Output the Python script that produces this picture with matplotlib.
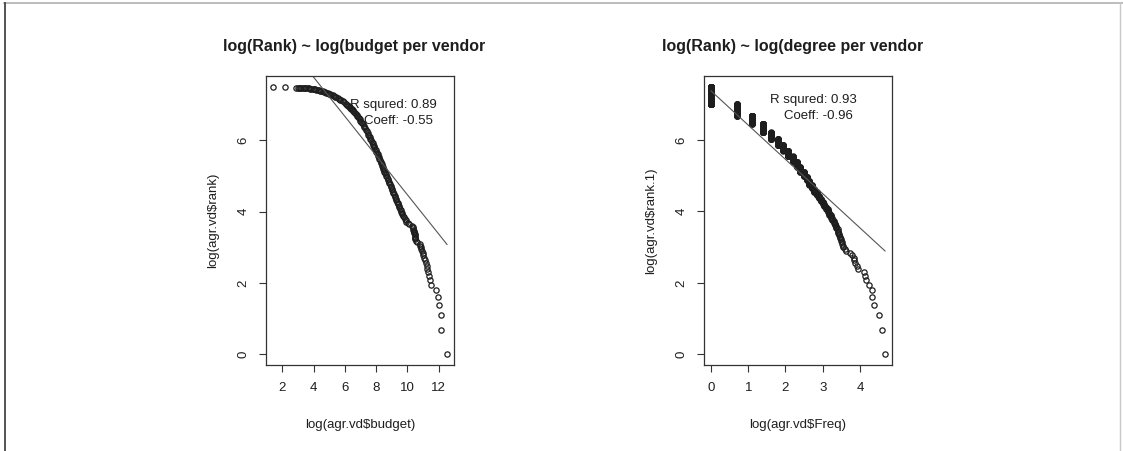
import numpy as np
import matplotlib
matplotlib.use("Agg")
import matplotlib.pyplot as plt
from matplotlib.lines import Line2D

plt.rcParams['font.family'] = ['Liberation Sans', 'DejaVu Sans']

# ---------------- budget per vendor ----------------
# log(budget) of the top-ranked vendors, rank 1, 2, 3, ...
budget_top_log = [12.53, 12.17, 12.13, 12.02, 11.98, 11.81, 11.49, 11.43, 11.39,
                  11.32, 11.28, 11.22, 11.16, 11.10, 11.05, 11.00, 10.97, 10.92,
                  10.88, 10.85, 10.80, 10.78, 10.60, 10.52, 10.49, 10.48, 10.48,
                  10.47, 10.46, 10.44, 10.42, 10.40, 10.38, 10.36, 10.33, 10.28]

# remaining vendors along the dense part of the curve: log(budget) and log(rank)
budget_tail_log = [
    10.10, 10.01, 9.94, 9.88, 9.83, 9.78, 9.73, 9.68, 9.64, 9.60,
    9.56, 9.52, 9.48, 9.44, 9.40, 9.37, 9.33, 9.29, 9.25, 9.21,
    9.18, 9.14, 9.11, 9.07, 9.04, 9.01, 8.97, 8.93, 8.89, 8.85,
    8.81, 8.77, 8.73, 8.69, 8.65, 8.61, 8.57, 8.53, 8.49, 8.45,
    8.42, 8.38, 8.35, 8.31, 8.28, 8.24, 8.20, 8.17, 8.13, 8.09,
    8.05, 8.02, 7.98, 7.94, 7.89, 7.85, 7.81, 7.77, 7.72, 7.68,
    7.64, 7.59, 7.55,
    7.50, 7.45, 7.40, 7.35, 7.30, 7.25, 7.20, 7.15, 7.10, 7.05,
    7.00, 6.95, 6.90, 6.85, 6.80, 6.75, 6.70, 6.65, 6.60, 6.55,
    6.50, 6.45, 6.40, 6.35, 6.30, 6.25, 6.20, 6.15, 6.10, 6.05,
    5.94, 5.86, 5.78, 5.70, 5.62, 5.54, 5.46, 5.38, 5.30, 5.22,
    5.14, 5.06, 4.98, 4.90, 4.82, 4.74, 4.66, 4.58, 4.50, 4.42,
    4.34, 4.26, 4.18, 4.10, 4.02, 3.94, 3.86, 3.78, 3.70, 3.62,
    3.54, 3.46, 3.38, 3.30, 3.22, 3.14, 3.06, 2.98, 2.90,
    2.15, 1.41]
rank_tail_log = [
    3.64, 3.68, 3.72, 3.76, 3.80, 3.84, 3.88, 3.92, 3.96, 4.00,
    4.04, 4.08, 4.12, 4.16, 4.20, 4.24, 4.28, 4.32, 4.36, 4.40,
    4.44, 4.48, 4.52, 4.56, 4.60, 4.64, 4.68, 4.72, 4.76, 4.80,
    4.84, 4.88, 4.92, 4.96, 5.00, 5.04, 5.08, 5.12, 5.16, 5.20,
    5.24, 5.28, 5.32, 5.36, 5.40, 5.44, 5.48, 5.52, 5.56, 5.60,
    5.64, 5.68, 5.72, 5.76, 5.80, 5.84, 5.88, 5.92, 5.96, 6.00,
    6.04, 6.08, 6.12,
    6.160, 6.205, 6.250, 6.290, 6.330, 6.370, 6.410, 6.445, 6.480, 6.515,
    6.550, 6.582, 6.614, 6.646, 6.678, 6.710, 6.736, 6.762, 6.788, 6.814,
    6.840, 6.862, 6.884, 6.906, 6.928, 6.950, 6.968, 6.986, 7.004, 7.022,
    7.066, 7.092, 7.116, 7.138, 7.159, 7.180, 7.199, 7.218, 7.237, 7.255,
    7.272, 7.288, 7.303, 7.316, 7.329, 7.342, 7.355, 7.368, 7.380, 7.389,
    7.398, 7.407, 7.415, 7.422, 7.429, 7.435, 7.440, 7.445, 7.450, 7.454,
    7.458, 7.461, 7.463, 7.465, 7.466, 7.468, 7.469, 7.470, 7.470,
    7.49, 7.50]

budget_r2 = 0.89
budget_coef = -0.55
budget_intercept = 9.97

# ---------------- degree per vendor ----------------
# degree of the most connected vendors, rank 1, 2, 3, ...
freq_top = [107, 98, 91, 79, 76, 75, 69, 65, 62, 61, 52, 50, 48, 47, 46,
            44, 42, 38, 37, 35, 35, 34, 34, 33, 33, 32, 32, 31, 31]
# number of vendors sharing each lower degree value
freq_levels = [30, 29, 28, 27, 26, 25, 24, 23, 22, 21, 20, 19, 18, 17, 16,
               15, 14, 13, 12, 11, 10, 9, 8, 7, 6, 5, 4, 3, 2, 1]
vendor_counts = [4, 3, 3, 3, 3, 4, 4, 5, 4, 5, 5, 6, 7, 8, 10,
                 12, 15, 15, 20, 25, 30, 35, 45, 50, 65, 85, 140, 160, 297, 703]

degree_r2 = 0.93
degree_coef = -0.96
degree_intercept = 7.38

# ---------------- assemble points ----------------
bx = np.concatenate([budget_top_log, budget_tail_log])
by = np.concatenate([np.log(np.arange(1, len(budget_top_log) + 1)), rank_tail_log])

freqs = np.concatenate([freq_top, np.repeat(freq_levels, vendor_counts)])
dx = np.log(freqs)
dy = np.log(np.arange(1, len(freqs) + 1))

W, H = 1123, 451
fig = plt.figure(figsize=(W / 100, H / 100), dpi=100)

INK = '#1e1e1e'
FRAME = '#333333'


def padded(lo, hi):
    d = (hi - lo) * 0.04
    return lo - d, hi + d


def panel(left_px, x, y, intercept, coef, r2, title, xlabel, ylabel,
          xticks, txt_xy, title_x):
    ax = fig.add_axes([left_px / W, 1 - 365 / H, 188 / W, 289 / H])
    ax.plot(x, y, linestyle='none', marker='o', markersize=3.8,
            markerfacecolor='none', markeredgecolor=INK, markeredgewidth=0.9)
    xs = np.array([x.min(), x.max()])
    ax.plot(xs, intercept + coef * xs, color='#555555', linewidth=0.8)
    ax.set_xlim(*padded(x.min(), x.max()))
    ax.set_ylim(*padded(0, y.max()))
    ax.set_xticks(xticks)
    ax.set_yticks([0, 2, 4, 6])
    ax.tick_params(length=5, width=0.8, color=FRAME, labelcolor=INK,
                   labelsize=9.5, pad=7)
    for lab in ax.get_yticklabels():
        lab.set_rotation(90)
        lab.set_va('center')
    for s in ax.spines.values():
        s.set_color(FRAME)
        s.set_linewidth(0.9)
    ax.set_xlabel(xlabel, fontsize=9.5, color=INK)
    ax.set_ylabel(ylabel, fontsize=9.5, color=INK)
    ax.xaxis.label.set_va('center')
    ax.xaxis.set_label_coords(0.5, (365 - 425) / 289)
    ax.yaxis.label.set_va('center')
    ax.yaxis.set_label_coords(-0.28, 0.5)
    tx, ty1, ty2 = txt_xy
    ax.text(tx, ty1, f'R squred: {r2:.2f}', ha='center', va='center',
            fontsize=9.5, color=INK)
    ax.text(tx + 0.03 * (ax.get_xlim()[1] - ax.get_xlim()[0]), ty2,
            f'Coeff: {coef:.2f}', ha='center', va='center',
            fontsize=9.5, color=INK)
    fig.text(title_x / W, 1 - 47 / H, title, ha='left', va='center',
             fontsize=11.5, fontweight='bold', color=INK)
    return ax


panel(266, bx, by, budget_intercept, budget_coef, budget_r2,
      'log(Rank) ~ log(budget per vendor', 'log(agr.vd\\$budget)',
      'log(agr.vd\\$rank)', [2, 4, 6, 8, 10, 12], (9.08, 6.99, 6.54), 223)
panel(704, dx, dy, degree_intercept, degree_coef, degree_r2,
      'log(Rank) ~ log(degree per vendor', 'log(agr.vd\\$Freq)',
      'log(agr.vd\\$rank.1)', [0, 1, 2, 3, 4], (2.74, 7.13, 6.68), 662)

# outer frame of the canvas
fig.add_artist(Line2D([4 / W, 1], [1 - 2.5 / H] * 2, color='#b0b0b0', linewidth=1.2))
fig.add_artist(Line2D([4.5 / W] * 2, [0, 1 - 2.5 / H], color='#444444', linewidth=1.3))
fig.add_artist(Line2D([1119.5 / W] * 2, [0, 1 - 2.5 / H], color='#c8c8c8', linewidth=1.0))

fig.savefig('out.png', dpi=100)
